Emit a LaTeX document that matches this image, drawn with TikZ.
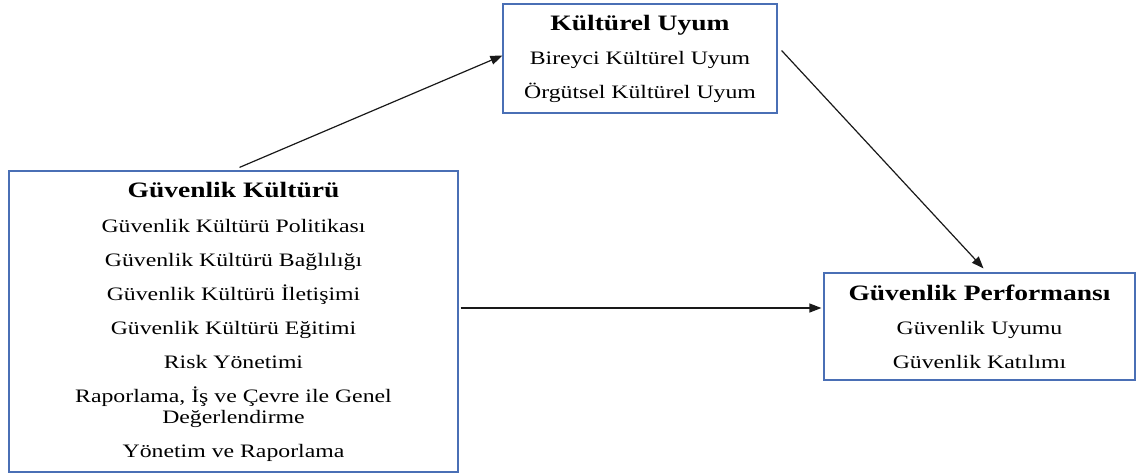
\documentclass[tikz,border=0pt]{standalone}
\usepackage{fontspec}
\setmainfont{Liberation Serif}[FakeStretch=1.25]
\usetikzlibrary{arrows.meta}
\definecolor{kutumavi}{HTML}{4A6FB5}
\newcommand{\baslik}[1]{{\fontsize{11}{10.5}\selectfont\bfseries #1}}
\tikzset{
  kutu/.style={draw=kutumavi,line width=0.6pt,rectangle,align=center,inner sep=0pt,
    font=\fontsize{9.5}{10.5}\selectfont},
  ok/.style={-{Triangle[length=6pt,width=4.5pt]},line width=0.6pt,black!90}
}
\begin{document}
\begin{tikzpicture}[x=0.5pt,y=-0.5pt]
\useasboundingbox (0,0) rectangle (1139,473);

\node[kutu,minimum width=137pt,minimum height=54.5pt] (uyum) at (640,58.5)
  {\baslik{Kültürel Uyum}\\[6.5pt]
   Bireyci Kültürel Uyum\\[6.5pt]
   Örgütsel Kültürel Uyum};

\node[kutu,minimum width=224.5pt,minimum height=150.5pt] (kultur) at (233.5,321.5)
  {\baslik{Güvenlik Kültürü}\\[7pt]
   Güvenlik Kültürü Politikası\\[6.5pt]
   Güvenlik Kültürü Bağlılığı\\[6.5pt]
   Güvenlik Kültürü İletişimi\\[6.5pt]
   Güvenlik Kültürü Eğitimi\\[6.5pt]
   Risk Yönetimi\\[6.5pt]
   Raporlama, İş ve Çevre ile Genel\\
   Değerlendirme\\[6.5pt]
   Yönetim ve Raporlama};

\node[kutu,minimum width=155.5pt,minimum height=53.5pt] (perf) at (979.5,326.5)
  {\baslik{Güvenlik Performansı}\\[6.5pt]
   Güvenlik Uyumu\\[6.5pt]
   Güvenlik Katılımı};

\draw[ok] ([xshift=3pt,yshift=1.5pt]kultur.north) -- ([yshift=1.5pt]uyum.west);
\draw[ok] ([xshift=2pt,yshift=4pt]uyum.east) -- ([xshift=2pt,yshift=2pt]perf.north);
\draw[ok] ([xshift=1pt]kultur.east |- 0,308) -- ([xshift=-1pt]perf.west |- 0,308);
\end{tikzpicture}
\end{document}
